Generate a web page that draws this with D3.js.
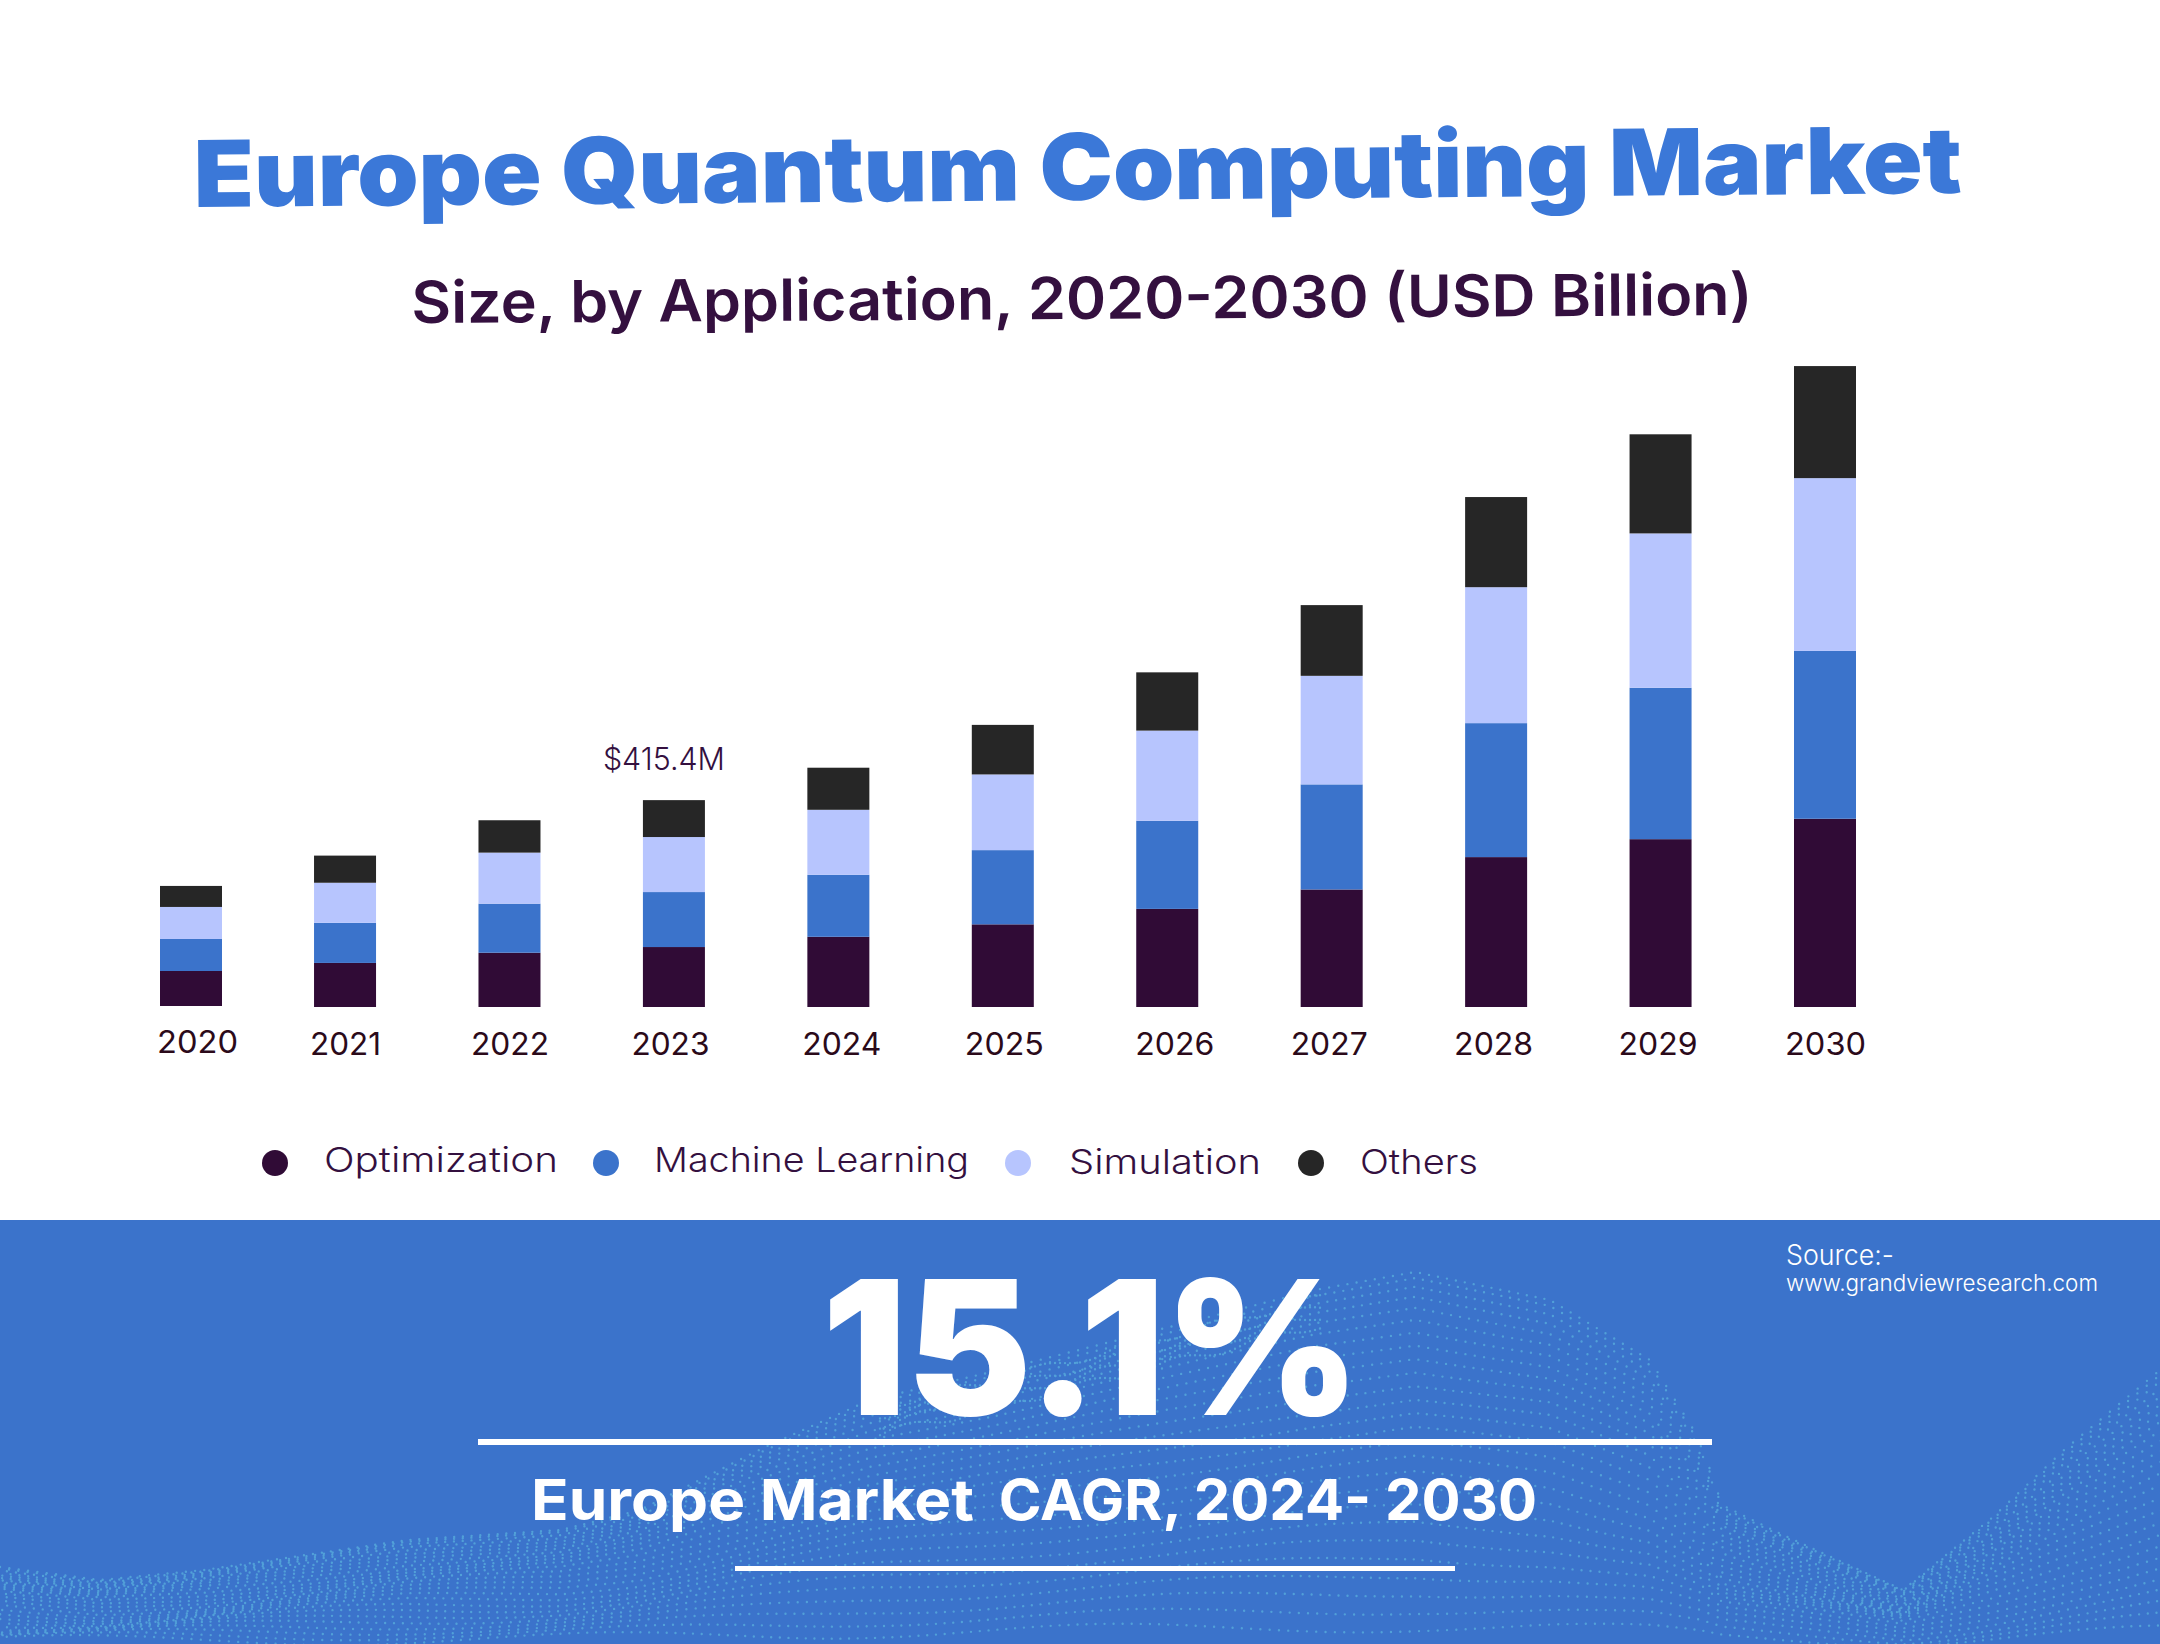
<!DOCTYPE html>
<html>
<head>
<meta charset="utf-8">
<title>Europe Quantum Computing Market</title>
<script src="https://cdn.jsdelivr.net/npm/d3@7"></script>
<style>
  html, body { margin: 0; padding: 0; background: #fff; }
  svg { display: block; }
  text { font-family: Inter, "Open Sans", sans-serif; }
</style>
</head>
<body>
<div id="chart"></div>
<script>
// Values, USD million
const years = [2020, 2021, 2022, 2023, 2024, 2025, 2026, 2027, 2028, 2029, 2030];
const optimization = [70.3, 88.5, 109, 120.4, 141, 166, 197, 236, 301, 337, 378];
const machineLearning = [64.3, 80.5, 98.5, 110.4, 124.5, 149, 177, 211, 269, 304, 337];
const simulation = [64.3, 80.5, 102.5, 110.5, 130.5, 152, 181, 218, 273, 310, 347];
const others = [42.2, 54.5, 65, 74.1, 84.5, 99.5, 117, 142, 181, 199, 225];
const seriesNames = ['Optimization', 'Machine Learning', 'Simulation', 'Others'];
const seriesColors = ['#300b36', '#3b73cb', '#b7c5fe', '#262626'];
const calloutYear = 2023;
const calloutText = '$415.4M';

const width = 2160;
const height = 1644;
const panelTop = 1220;
const barWidth = 62;

const svg = d3.select('#chart').append('svg')
  .attr('width', width)
  .attr('height', height)
  .attr('viewBox', `0 0 ${width} ${height}`);

// Bottom panel with the dotted wave behind the text
svg.append('rect')
  .attr('y', panelTop)
  .attr('width', width)
  .attr('height', height - panelTop)
  .attr('fill', '#3b73cb');

const waveTop = d3.scaleLinear()
  .domain([0, 100, 204, 408, 561, 640, 765, 870, 1000, 1315, 1415, 1550, 1650, 1700, 1722, 1779, 1903, 1993, 2064, 2160])
  .range([1567, 1580, 1570, 1540, 1530, 1510, 1447, 1400, 1370, 1290, 1272, 1300, 1360, 1440, 1505, 1533, 1590, 1517, 1450, 1370]);

const dots = d3.path();
for (let col = 0; col <= 240; col++) {
  for (let row = 0; row < 26; row++) {
    const t = row / 26;
    const x = col * 9 + 7 * Math.sin(row * 0.7 + col * 0.05) + (row % 2) * 4.5;
    const top = waveTop(Math.max(0, Math.min(width, x)));
    const y = top + (height - top) * Math.pow(t, 1.25)
      + 6 * t * Math.sin(col * 0.11 + row * 0.4);
    dots.moveTo(x + 1.2, y);
    dots.arc(x, y, 1.2, 0, 2 * Math.PI);
  }
}
// Brighter ridge running up the left side of the hump
for (let px = 880; px <= 1320; px += 5) {
  for (let band = 1; band <= 4; band++) {
    const py = waveTop(px) + band * 9 + 4 * Math.sin(px * 0.07 + band);
    dots.moveTo(px + 1.2, py);
    dots.arc(px, py, 1.2, 0, 2 * Math.PI);
  }
}
svg.append('path')
  .attr('d', dots.toString())
  .attr('fill', '#5fbbe0')
  .attr('opacity', 0.62);

// Titles are very slightly tilted in the original
svg.append('text')
  .attr('transform', 'translate(1078,200) rotate(-0.45)')
  .attr('text-anchor', 'middle')
  .attr('textLength', 1768)
  .attr('lengthAdjust', 'spacingAndGlyphs')
  .attr('font-size', 92)
  .attr('font-weight', 900)
  .attr('fill', '#3b78d8')
  .text('Europe Quantum Computing Market');

svg.append('text')
  .attr('transform', 'translate(1082,319) rotate(-0.35)')
  .attr('text-anchor', 'middle')
  .attr('textLength', 1341)
  .attr('lengthAdjust', 'spacingAndGlyphs')
  .attr('font-size', 58)
  .attr('font-weight', 600)
  .attr('fill', '#34103f')
  .text('Size, by Application, 2020-2030 (USD Billion)');

// Scales
const x = d3.scalePoint().domain(years).range([180.6, 1825]);
const y = d3.scaleLinear().domain([0, 1000]).range([1007, 509]);

// The first bar sits a little off the grid of the others
const barNudge = year => (year === 2020 ? 10.4 : 0);
const barLift = year => (year === 2020 ? -1 : 0);
const barCenter = year => x(year) + barNudge(year);

const rows = years.map((year, i) => ({
  year,
  'Optimization': optimization[i],
  'Machine Learning': machineLearning[i],
  'Simulation': simulation[i],
  'Others': others[i]
}));
const stacked = d3.stack().keys(seriesNames)(rows);

svg.append('g')
  .selectAll('g')
  .data(stacked)
  .join('g')
  .attr('fill', (d, i) => seriesColors[i])
  .selectAll('rect')
  .data(d => d)
  .join('rect')
  .attr('x', d => barCenter(d.data.year) - barWidth / 2)
  .attr('y', d => y(d[1]) + barLift(d.data.year))
  .attr('width', barWidth)
  .attr('height', d => y(d[0]) - y(d[1]));

// Year labels through the axis, nudged to where the original put them
const tickNudge = [6, 0, 0, -4, 3, 1, 7, -3, -3, -3, 0];
const tickWidth = [81, 71, 78, 78, 79, 79, 79, 77, 79, 79, 81];
const axis = svg.append('g')
  .attr('transform', 'translate(0,1055)')
  .call(d3.axisBottom(x).tickSize(0).tickPadding(0));
axis.select('.domain').remove();
axis.selectAll('text')
  .attr('x', (d, i) => barNudge(d) + tickNudge[i])
  .attr('y', d => (d === 2020 ? -2 : 0))
  .attr('dy', 0)
  .attr('font-size', 31)
  .attr('font-family', 'Inter')
  .attr('fill', '#2b0a1a')
  .attr('textLength', (d, i) => tickWidth[i])
  .attr('lengthAdjust', 'spacingAndGlyphs');

const calloutIndex = years.indexOf(calloutYear);
svg.append('text')
  .attr('x', barCenter(calloutYear) - 10)
  .attr('y', y(d3.sum(seriesNames, k => rows[calloutIndex][k])) - 30)
  .attr('text-anchor', 'middle')
  .attr('textLength', 122)
  .attr('lengthAdjust', 'spacingAndGlyphs')
  .attr('font-size', 31)
  .attr('font-weight', 300)
  .attr('fill', '#34103f')
  .text(calloutText);

// Legend
const legendDotX = [275, 606, 1018, 1311];
const legendTextX = [324, 654, 1069, 1360];
const legendTextWidth = [234, 315, 192, 118];
const legendBaseline = [1172, 1172, 1174, 1174];

const legend = svg.append('g')
  .selectAll('g')
  .data(seriesNames)
  .join('g');
legend.append('circle')
  .attr('cx', (d, i) => legendDotX[i])
  .attr('cy', 1163)
  .attr('r', 13)
  .attr('fill', (d, i) => seriesColors[i]);
legend.append('text')
  .attr('x', (d, i) => legendTextX[i])
  .attr('y', (d, i) => legendBaseline[i])
  .attr('textLength', (d, i) => legendTextWidth[i])
  .attr('lengthAdjust', 'spacingAndGlyphs')
  .attr('font-size', 34)
  .attr('font-weight', 300)
  .attr('fill', '#34103f')
  .text(d => d);

// Panel text and rules
svg.append('text')
  .attr('x', 822)
  .attr('y', 1415)
  .attr('textLength', 538)
  .attr('lengthAdjust', 'spacingAndGlyphs')
  .attr('font-size', 187)
  .attr('font-weight', 900)
  .attr('fill', '#fff')
  .text('15.1%');

svg.append('rect')
  .attr('x', 478).attr('y', 1439)
  .attr('width', 1234).attr('height', 6)
  .attr('fill', '#fff');

const cagr = svg.append('text')
  .attr('y', 1520)
  .attr('font-size', 56)
  .attr('font-weight', 700)
  .attr('fill', '#fff');
cagr.append('tspan')
  .attr('x', 531)
  .attr('textLength', 443)
  .attr('lengthAdjust', 'spacingAndGlyphs')
  .text('Europe Market');
cagr.append('tspan')
  .attr('x', 985)
  .attr('textLength', 552)
  .attr('lengthAdjust', 'spacingAndGlyphs')
  .text(' CAGR, 2024- 2030');

svg.append('rect')
  .attr('x', 735).attr('y', 1566)
  .attr('width', 720).attr('height', 5)
  .attr('fill', '#fff');

svg.append('text')
  .attr('x', 1786)
  .attr('y', 1265)
  .attr('textLength', 108)
  .attr('lengthAdjust', 'spacingAndGlyphs')
  .attr('font-size', 28)
  .attr('font-weight', 300)
  .attr('fill', '#fff')
  .text('Source:-');

svg.append('text')
  .attr('x', 1786)
  .attr('y', 1291)
  .attr('textLength', 312)
  .attr('lengthAdjust', 'spacingAndGlyphs')
  .attr('font-size', 23)
  .attr('font-weight', 300)
  .attr('fill', '#fff')
  .text('www.grandviewresearch.com');
</script>
</body>
</html>
